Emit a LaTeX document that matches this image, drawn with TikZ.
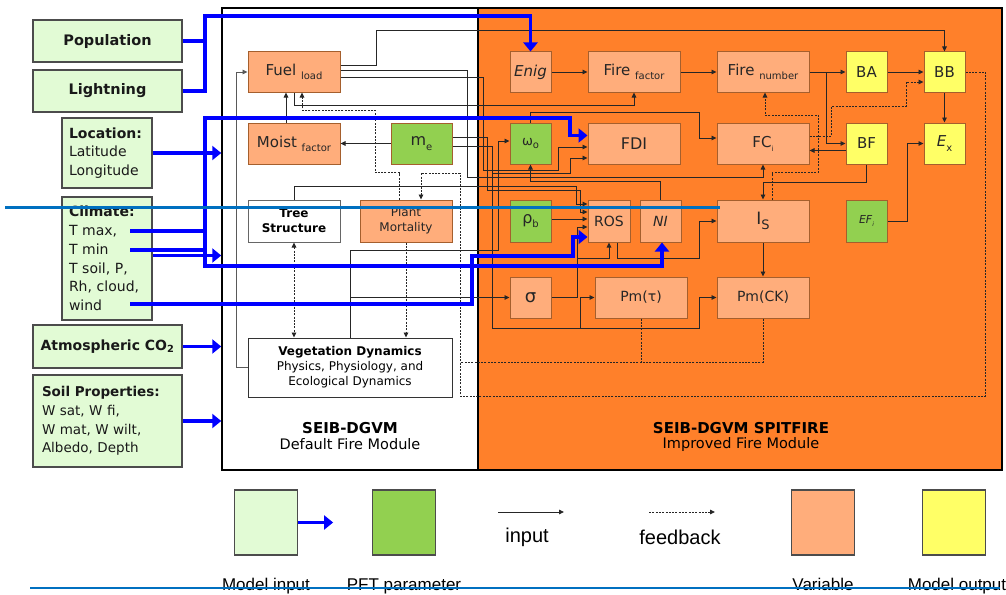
\documentclass[tikz,border=0pt]{standalone}
\usepackage{fontspec}
\setmainfont{DejaVu Sans}
\newfontfamily\legendfont{Liberation Sans}
\usetikzlibrary{arrows.meta,calc}

\definecolor{ingreen}{RGB}{226,251,213}
\definecolor{pftgreen}{RGB}{146,208,80}
\definecolor{varorange}{RGB}{255,173,123}
\definecolor{outyellow}{RGB}{255,255,102}
\definecolor{modorange}{RGB}{255,128,42}
\definecolor{edgebrown}{RGB}{165,95,45}
\definecolor{strayblue}{RGB}{0,112,192}

\newcommand{\sbs}[1]{\raisebox{-0.5ex}{\fontsize{10}{10}\selectfont #1}}

\tikzset{
  sz/.style 2 args={minimum width=#1, minimum height=#2},
  inbox/.style={draw=black!70, fill=ingreen, line width=1.2pt, inner sep=0pt, font=\fontsize{14}{18.7}\selectfont, text=black!90},
  varbox/.style={draw=edgebrown, fill=varorange, line width=1pt, inner sep=0pt, font=\fontsize{15}{18}\selectfont, text=black!85},
  pftbox/.style={varbox, fill=pftgreen},
  outbox/.style={varbox, fill=outyellow},
  ln/.style={black!85, line width=0.9pt, line join=miter},
  lnarr/.style={ln, -{Triangle[length=5pt,width=4.5pt]}},
  fb/.style={ln, dash pattern=on 2pt off 1.3pt},
  fbarr/.style={fb, -{Triangle[length=5pt,width=4.5pt]}},
  blueln/.style={blue, line width=3.5pt, line join=miter},
  bluearr/.style={blueln, -{Triangle[length=9pt,width=14pt]}},
}

\begin{document}
\begin{tikzpicture}[x=1pt,y=-1pt]
\useasboundingbox (0,0) rectangle (1006,594);

% the two modules
\node[draw, line width=1.5pt, fill=white, sz={256}{462}] (left) at (350,239) {};
\node[draw, line width=1.5pt, fill=modorange, sz={524}{462}] (right) at (740,239) {};
\node[font=\fontsize{15}{18}\selectfont\bfseries] (ttlL) at (350,428) {SEIB-DGVM};
\node[font=\fontsize{14.5}{17}\selectfont] (subL) at (350,444) {Default Fire Module};
\node[font=\fontsize{15}{18}\selectfont\bfseries] (ttlR) at (741,428) {SEIB-DGVM SPITFIRE};
\node[font=\fontsize{14.5}{17}\selectfont] (subR) at (741,444) {Improved Fire Module};

% model inputs
\node[inbox, sz={149}{42}, font=\fontsize{14.5}{18}\selectfont\bfseries] (pop) at (107.5,41) {Population};
\node[inbox, sz={149}{42}, font=\fontsize{14.5}{18}\selectfont\bfseries] (light) at (107.5,91) {Lightning};
\node[inbox, sz={90}{70}, text width=76pt, align=left] (loc) at (107,153) {\textbf{Location:}\\Latitude\\Longitude};
\node[inbox, sz={90}{123}, text width=76pt, align=left] (clim) at (107,258.5) {\textbf{Climate:}\\T max,\\T min\\T soil, P,\\Rh, cloud,\\wind};
\node[inbox, sz={149}{43}, font=\fontsize{14}{18}\selectfont\bfseries] (co2) at (107.5,346.5) {Atmospheric CO\textsubscript{2}};
\node[inbox, sz={149}{92}, text width=131pt, align=left, font=\fontsize{13.5}{18.7}\selectfont] (soil) at (107.5,421) {\textbf{Soil Properties:}\\W sat, W fi,\\W mat, W wilt,\\Albedo, Depth};

% default fire module
\node[varbox, sz={92}{40}] (fuel) at (294,72) {Fuel \sbs{load}};
\node[varbox, sz={92}{41}] (moist) at (294,143.5) {Moist \sbs{factor}};
\node[pftbox, sz={61}{41}, font=\fontsize{16}{18}\selectfont] (me) at (421.5,143.5) {m\sbs{e}};
\node[draw=black!60, fill=white, line width=1pt, sz={92}{42}, align=center, font=\fontsize{12}{15}\selectfont\bfseries] (tree) at (294,221) {Tree\\Structure};
\node[varbox, sz={92}{42}, align=center, font=\fontsize{12}{15}\selectfont] (mort) at (406,221) {Plant\\Mortality};
\node[draw=black!80, fill=white, line width=1pt, sz={204}{59}, align=center, font=\fontsize{12}{15}\selectfont] (veg) at (350,367.5) {\textbf{Vegetation Dynamics}\\Physics, Physiology, and\\Ecological Dynamics};

% improved fire module
\node[varbox, sz={41}{40}, font=\fontsize{15}{18}\selectfont\itshape] (enig) at (530.5,72) {Enig};
\node[varbox, sz={92}{40}] (ffac) at (634,72) {Fire \sbs{factor}};
\node[varbox, sz={92}{40}] (fnum) at (763,72) {Fire \sbs{number}};
\node[outbox, sz={41}{40}] (ba) at (866.5,72) {BA};
\node[outbox, sz={41}{40}] (bb) at (944.5,72) {BB};
\node[pftbox, sz={41}{41}, font=\fontsize{13}{15}\selectfont] (omega) at (530.5,143.5) {ω\sbs{o}};
\node[varbox, sz={92}{41}, font=\fontsize{16}{18}\selectfont] (fdi) at (634,143.5) {FDI};
\node[varbox, sz={92}{41}] (fci) at (763,143.5) {FC\raisebox{-0.5ex}{\fontsize{7}{7}\selectfont i}};
\node[outbox, sz={41}{41}] (bf) at (866.5,143.5) {BF};
\node[outbox, sz={41}{41}] (ex) at (944.5,143.5) {\textit{E}\sbs{x}};
\node[pftbox, sz={41}{42}, font=\fontsize{16}{18}\selectfont] (rho) at (530.5,221) {ρ\sbs{b}};
\node[varbox, sz={42}{42}, font=\fontsize{14}{16}\selectfont] (ros) at (609,221) {ROS};
\node[varbox, sz={41}{42}, font=\fontsize{14}{16}\selectfont\itshape] (ni) at (660.5,221) {NI};
\node[varbox, sz={92}{42}, font=\fontsize{17}{18}\selectfont] (is) at (763,221) {I\raisebox{-0.5ex}{\fontsize{13}{13}\selectfont S}};
\node[pftbox, sz={41}{42}, font=\fontsize{11}{13}\selectfont\itshape] (efi) at (866.5,221) {EF\raisebox{-0.4ex}{\fontsize{6}{6}\selectfont i}};
\node[varbox, sz={41}{41}, font=\fontsize{18}{20}\selectfont] (sigma) at (530.5,297.5) {σ};
\node[varbox, sz={92}{41}, font=\fontsize{14}{15}\selectfont] (pmt) at (641,297.5) {Pm(τ)};
\node[varbox, sz={92}{41}, font=\fontsize{14}{15}\selectfont] (pmck) at (763,297.5) {Pm(CK)};

% inputs between variables
\draw[lnarr, black!65] (veg.west) -- ++(-11,0) |- (fuel.west);
\draw[lnarr] ($(moist.north)+(-8,0)$) -- ($(fuel.south)+(-8,0)$);
\draw[lnarr] (me.west) -- (moist.east);
\draw[lnarr] ($(fuel.east)+(0,-7)$) -- ++(36,0) -- ++(0,-35) -| (bb.north);
\draw[lnarr] (fuel.south) -- ++(0,13) -| (ffac.south);
\draw[lnarr] ($(fuel.east)+(0,-2)$) -- (467,70) -- (467,177) -| (fci.south);
\draw[lnarr] ($(fuel.east)+(0,5)$) -- (483,77) |- (558,170) |- ($(fdi.west)+(0,3.5)$);
\draw[lnarr] ($(me.east)+(0,-6.5)$) -- (487,137) |- (580,190) |- ($(ros.west)+(0,-9)$);
\draw[lnarr] ($(me.east)+(0,2.5)$) -- (492,146) |- (570,173) |- ($(fdi.west)+(0,14.5)$);
\draw[lnarr] (492,173) |- (699,328) |- (pmck.west);
\draw[lnarr] (580,328) |- (pmt.west);
\draw[lnarr] (tree.north) |- (576,186) |- ($(ros.west)+(0,-17)$);
\draw[lnarr] (veg.north) |- (sigma.west);
\draw[lnarr] (350,297.5) |- (498,250) |- ($(omega.west)+(0,-2.5)$);
\draw[lnarr] ($(rho.east)+(0,-2)$) -- ($(ros.west)+(0,-2)$);
\draw[lnarr] (sigma.east) -- (577,297.5) |- ($(ros.west)+(0,6)$);
\draw[lnarr] (577,258) -| (ros.south);
\draw[lnarr] ($(ros.south)+(8,0)$) |- (699,258) |- (is.west);
\draw[lnarr] (ni.north) -- ++(0,-18) -| (omega.south);
\draw[lnarr] (omega.north) |- (699,112) |- ($(fci.west)+(0,-5.5)$);
\draw[lnarr] (enig) -- (ffac);
\draw[lnarr] (ffac) -- (fnum);
\draw[lnarr] (fnum) -- (ba);
\draw[lnarr] (ba) -- (bb);
\draw[lnarr] (bb) -- (ex);
\draw[lnarr] ($(fnum.east)+(17,0)$) |- (bf.west);
\draw[lnarr] ($(bf.west)+(0,7)$) -- ($(fci.east)+(0,7)$);
\draw[lnarr] (bf.south) -- ++(0,18) -| (is.north);
\draw[lnarr] (efi.east) -- ++(20,0) |- (ex.west);
\draw[lnarr] (is) -- (pmck);

% feedbacks
\draw[fbarr] ($(fci.east)+(0,-7.5)$) -- ++(22,0) |- (906,106) |- ($(bb.west)+(0,10)$);
\draw[fbarr] (bb.east) -- ++(20,0) |- (460,396) -- (460,173) -| ($(mort.north)+(15,0)$);
\draw[fb] (pmck.south) |- (460,362);
\draw[fb] (pmt.south) -- ++(0,44);
\draw[fbarr] ($(mort.north)+(-7,0)$) -- ++(0,-27) -| (375,110) -| ($(fuel.south)+(8,0)$);
\draw[fbarr] (mort.south) -- (mort.south |- veg.north);
\draw[fb, {Triangle[length=5pt,width=4.5pt]}-{Triangle[length=5pt,width=4.5pt]}] (tree.south) -- (tree.south |- veg.north);
\draw[fbarr] ($(is.north)+(9,0)$) -- ++(0,-27) -| (818,115) -| ($(fnum.south)+(2,0)$);

% model inputs (blue)
\coordinate (tmax) at (130,231);
\coordinate (tmin) at (130,250);
\coordinate (wind) at (130,304);
\draw[blueln] (pop.east) -- ++(23,0);
\draw[bluearr] (light.east) -| (205,16) -| (enig.north);
\draw[bluearr] (loc.east) -- (loc.east -| left.west);
\draw[bluearr] (205,266) |- (570,118) |- ($(fdi.west)+(0,-8)$);
\draw[bluearr] (tmax) -| (205,266) -| ($(ni.south)+(1.5,0)$);
\draw[blueln] (tmin) -- ++(75,0);
\draw[bluearr] ($(clim.east)+(0,-3)$) -- ($(clim.east -| left.west)+(0,-3)$);
\draw[bluearr] (wind) -- (472,304) |- (573,256) |- ($(ros.west)+(0,16)$);
\draw[bluearr] (co2.east) -- (co2.east -| left.west);
\draw[bluearr] (soil.east) -- (soil.east -| left.west);

% legend
\node[inbox, sz={63}{65}] (lgin) at (266,522.5) {};
\node[pftbox, draw=black!70, line width=1.2pt, sz={63}{65}] (lgpft) at (404,522.5) {};
\node[varbox, draw=black!70, line width=1.2pt, sz={63}{65}] (lgvar) at (823,522.5) {};
\node[outbox, draw=black!70, line width=1.2pt, sz={63}{65}] (lgout) at (954,522.5) {};
\draw[bluearr] (lgin.east) -- ++(35,0);
\coordinate (inA) at (498,512);
\coordinate (inB) at (564,512);
\coordinate (fbA) at (649,512);
\coordinate (fbB) at (715,512);
\draw[lnarr] (inA) -- (inB);
\draw[fbarr] (fbA) -- (fbB);
\node[font=\legendfont\fontsize{20}{22}\selectfont] (lbin) at (527,537) {input};
\node[font=\legendfont\fontsize{20}{22}\selectfont] (lbfb) at (680,537) {feedback};
\node[font=\legendfont\fontsize{17}{18}\selectfont, anchor=base] (lbmi) at (266,590) {Model input};
\node[font=\legendfont\fontsize{17}{18}\selectfont, anchor=base] (lbpft) at (404,590) {PFT parameter};
\node[font=\legendfont\fontsize{17}{18}\selectfont, anchor=base] (lbvar) at (823,590) {Variable};
\node[font=\legendfont\fontsize{17}{18}\selectfont, anchor=base] (lbmo) at (957,590) {Model output};

% stray rules
\draw[strayblue, line width=3pt] (5,207) -- (720,207);
\draw[strayblue, line width=2.5pt] (30,588) -- (1000,588);
\end{tikzpicture}
\end{document}
